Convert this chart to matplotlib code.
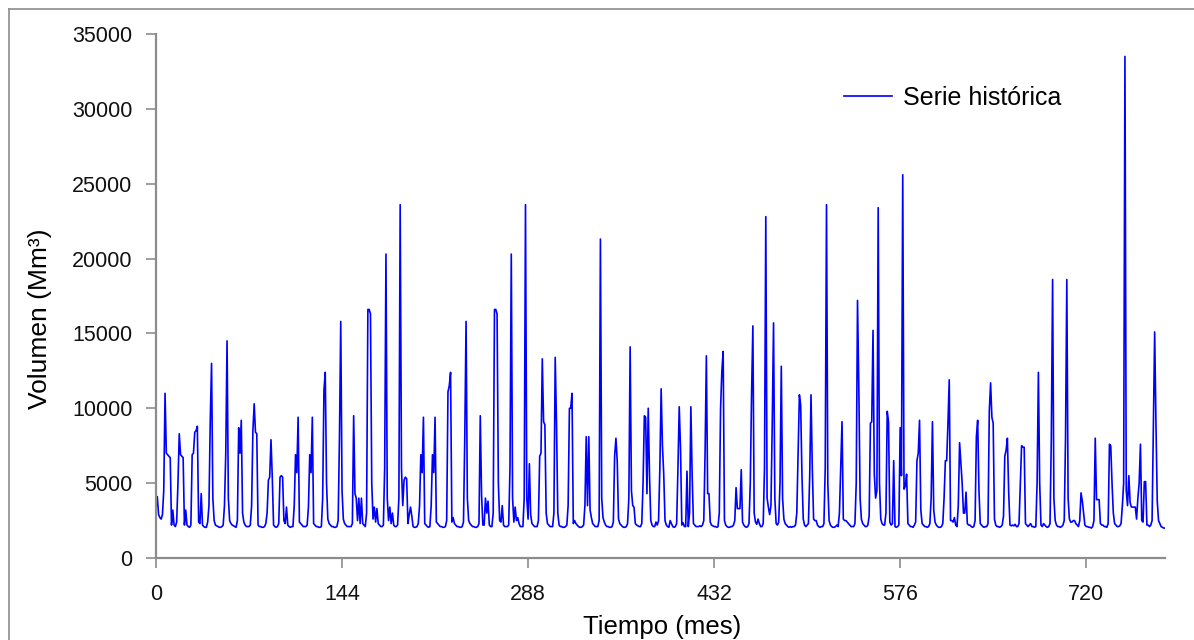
import matplotlib
matplotlib.use("Agg")
import matplotlib.pyplot as plt
from matplotlib.lines import Line2D

# volumen mensual (Mm3), una fila por cada 12 meses
volumen = [
    3300, 4100, 2900, 2700, 2600, 2900, 4500, 11000, 7000, 6900, 6800, 6700,
    2200, 3200, 2200, 2100, 2400, 5000, 8300, 6900, 6800, 6700, 2200, 3200,
    2200, 2100, 2050, 2200, 6900, 7000, 8400, 8500, 8800, 2400, 2300, 4300,
    2200, 2100, 2050, 2050, 2400, 3500, 9200, 13000, 4000, 2500, 2200, 2150,
    2100, 2050, 2050, 2100, 2200, 3500, 7000, 14500, 4000, 2500, 2300, 2200,
    2150, 2100, 2050, 2500, 8700, 7000, 9200, 3000, 2400, 2200, 2100, 2100,
    2100, 2200, 3500, 8500, 10300, 8400, 8300, 2200, 2100, 2100, 2050, 2050,
    2100, 2300, 3000, 5200, 5400, 7900, 5400, 2200, 2100, 2050, 2100, 2300,
    5400, 5500, 5400, 2500, 2300, 3400, 2200, 2100, 2050, 2100, 2100, 3500,
    6900, 5700, 9400, 2400, 2300, 2200, 2100, 2100, 2100, 2200, 3400, 6900,
    5700, 9400, 2300, 2200, 2100, 2100, 2050, 2050, 2100, 4000, 11200, 12400,
    5000, 2600, 2300, 2200, 2100, 2100, 2050, 2050, 2100, 2500, 8000, 15800,
    4500, 2600, 2300, 2200, 2100, 2100, 2100, 2100, 2300, 9500, 4300, 4000,
    2500, 4000, 2300, 4000, 2300, 2200, 2100, 3000, 16600, 16600, 16300, 5000,
    2600, 3400, 2400, 3300, 2300, 2200, 2100, 2100, 2200, 6000, 20300, 4000,
    2500, 3400, 2300, 3000, 2200, 2100, 2100, 2200, 4000, 23600, 6000, 3500,
    5200, 5400, 5300, 2300, 2900, 3400, 2800, 2100, 2050, 2050, 2100, 2300,
    3500, 6900, 5700, 9400, 2300, 2200, 2100, 2050, 2100, 3500, 6900, 5700,
    9400, 2400, 2300, 2200, 2100, 2100, 2050, 2050, 2100, 2500, 11100, 11500,
    12400, 2400, 2700, 2300, 2200, 2100, 2100, 2050, 2050, 2100, 2400, 8000,
    15800, 4000, 2500, 2300, 2200, 2100, 2100, 2050, 2050, 2100, 2300, 9500,
    4200, 2200, 2200, 4000, 3000, 3800, 2200, 2100, 2100, 3000, 16600, 16600,
    16300, 5000, 2500, 2400, 3500, 2200, 2100, 2100, 2100, 2200, 6000, 20300,
    4000, 2400, 3400, 2500, 2700, 2300, 2100, 2100, 2100, 4000, 23600, 4000,
    2600, 6300, 2900, 2300, 2200, 2100, 2100, 2100, 2500, 6800, 7000, 13300,
    9100, 8900, 3000, 2300, 2200, 2100, 2100, 2100, 3000, 13400, 9000, 3000,
    2200, 2100, 2100, 2050, 2050, 2100, 2200, 3500, 10000, 10000, 11000, 2300,
    2500, 2300, 2200, 2100, 2050, 2050, 2100, 2200, 3500, 8100, 3500, 8100,
    3200, 2700, 2300, 2200, 2100, 2100, 2100, 2500, 21300, 4000, 2700, 2400,
    2200, 2100, 2100, 2050, 2050, 2100, 2400, 6800, 8000, 6500, 2600, 2300,
    2200, 2100, 2050, 2050, 2100, 2300, 4000, 14100, 4500, 3500, 3400, 2300,
    2200, 2150, 2100, 2100, 2300, 5000, 9500, 9400, 4300, 10000, 5500, 2500,
    2200, 2100, 2100, 2400, 2200, 2500, 6000, 11300, 7500, 5600, 2500, 2200,
    2100, 2050, 2500, 2300, 2100, 2050, 2100, 2300, 6000, 10100, 7300, 2200,
    2350, 2100, 2100, 5800, 2100, 3000, 10100, 5500, 2300, 2200, 2100, 2100,
    2100, 2150, 2100, 2200, 2500, 7000, 13500, 4300, 4300, 2400, 2200, 2150,
    2100, 2100, 2050, 2100, 3000, 10000, 12500, 13800, 2500, 2200, 2100, 2050,
    2050, 2100, 2100, 2200, 2500, 4700, 3300, 3300, 3300, 5900, 2400, 2200,
    2100, 2050, 2100, 2300, 5000, 11000, 15500, 3000, 2400, 2250, 2600, 2300,
    2100, 2100, 2300, 6000, 22800, 4000, 3400, 2900, 3500, 9000, 15700, 4000,
    2300, 2200, 2400, 5000, 12800, 4000, 2600, 2300, 2200, 2100, 2050, 2100,
    2050, 2100, 2100, 2200, 3000, 7000, 10900, 10200, 5500, 2600, 2200, 2100,
    2200, 2300, 5500, 10900, 6000, 2600, 2500, 2500, 2200, 2100, 2050, 2100,
    2100, 2300, 6000, 23600, 5000, 2500, 2200, 2100, 2050, 2050, 2100, 2200,
    2100, 3000, 6000, 9100, 2600, 2500, 2500, 2400, 2300, 2200, 2100, 2100,
    2100, 2300, 5000, 17200, 11400, 4000, 2600, 2300, 2200, 2100, 2100, 2200,
    2800, 9000, 9100, 15200, 5600, 4000, 4500, 23400, 5000, 2600, 2300, 2200,
    2200, 3000, 9800, 9100, 2400, 2200, 2300, 6500, 2100, 2050, 2100, 2200,
    8700, 5500, 25600, 4600, 4800, 5600, 2300, 2200, 2100, 2100, 2050, 2200,
    2400, 6500, 7000, 9200, 3200, 2300, 2200, 2100, 2100, 2050, 2100, 2300,
    4000, 9100, 3200, 2400, 2200, 2100, 2050, 2050, 2100, 2300, 4000, 6500,
    6500, 9000, 11900, 2500, 2500, 2400, 2700, 2200, 2100, 3500, 7700, 6300,
    5000, 3000, 3000, 4400, 2300, 2200, 2200, 2100, 2050, 2100, 2500, 8100,
    9200, 4500, 2300, 2200, 2100, 2050, 2100, 2100, 2300, 9800, 11700, 9400,
    9000, 2600, 2200, 2100, 2100, 2050, 2100, 2200, 2800, 6800, 7200, 8000,
    4400, 2200, 2150, 2200, 2150, 2250, 2100, 2100, 2300, 5000, 7500, 7400,
    7400, 2300, 2200, 2100, 2200, 2300, 2100, 2100, 2050, 2100, 5000, 12400,
    5000, 2200, 2100, 2300, 2200, 2100, 2050, 2100, 2300, 8000, 18600, 4000,
    2500, 2200, 2100, 2100, 2050, 2100, 2200, 2500, 8000, 18600, 4000, 2600,
    2400, 2400, 2500, 2500, 2300, 2200, 2100, 2500, 4350, 3800, 3000, 2200,
    2100, 2100, 2050, 2050, 2000, 2100, 2500, 8000, 3900, 3900, 3900, 2300,
    2200, 2200, 2100, 2100, 2050, 2300, 7600, 7500, 5000, 3000, 2300, 2200,
    2100, 2100, 2150, 2300, 3500, 5000, 33500, 4500, 3500, 5500, 3700, 3400,
    3400, 3400, 3400, 2600, 4000, 5000, 7600, 2500, 2400, 5100, 5100, 2200,
    2200, 2100, 2200, 2500, 9000, 15100, 9000, 3800, 2500, 2300, 2100, 2050,
    2000, 2000,
]
meses = list(range(len(volumen)))

x_ticks = [0, 144, 288, 432, 576, 720]
y_ticks = [0, 5000, 10000, 15000, 20000, 25000, 30000, 35000]

plt.rcParams['font.family'] = ['Liberation Sans', 'DejaVu Sans']
gris = '#8c8c8c'

fig = plt.figure(figsize=(11.94, 6.4), dpi=100)
ax = fig.add_axes([156/1194, 1 - 558/640, (1165-156)/1194, (558-34)/640])

ax.plot(meses, volumen, color='#0000ff', linewidth=1.2, label='Serie histórica')

ax.set_xlim(0, 781)
ax.set_ylim(0, 35000)
ax.set_xticks(x_ticks)
ax.set_yticks(y_ticks)
ax.tick_params(axis='both', direction='out', length=7, width=1.2,
               color=gris, labelsize=15.5, labelcolor='#111111')
ax.tick_params(axis='y', pad=10)
ax.tick_params(axis='x', pad=12)
for s in ['top', 'right']:
    ax.spines[s].set_visible(False)
for s in ['left', 'bottom']:
    ax.spines[s].set_color(gris)
    ax.spines[s].set_linewidth(1.6)

ax.set_xlabel('Tiempo (mes)', fontsize=18.5)
ax.set_ylabel('Volumen (Mm³)', fontsize=19)
ax.xaxis.set_label_coords(0.5015, -0.108)
ax.yaxis.set_label_coords(-0.103, 0.456)

ax.legend(loc='center left', bbox_to_anchor=(0.682, 0.878), frameon=False,
          fontsize=18, handlelength=1.9, handletextpad=0.45,
          borderaxespad=0, borderpad=0)

# marco del area del grafico (solo visible arriba e izquierda)
fig.add_artist(Line2D([9/1194, 9/1194], [0, 1 - 9/640], transform=fig.transFigure,
                      color=gris, linewidth=1.2))
fig.add_artist(Line2D([9/1194, 1], [1 - 9/640, 1 - 9/640], transform=fig.transFigure,
                      color=gris, linewidth=1.2))

fig.savefig('out.png', dpi=100)
